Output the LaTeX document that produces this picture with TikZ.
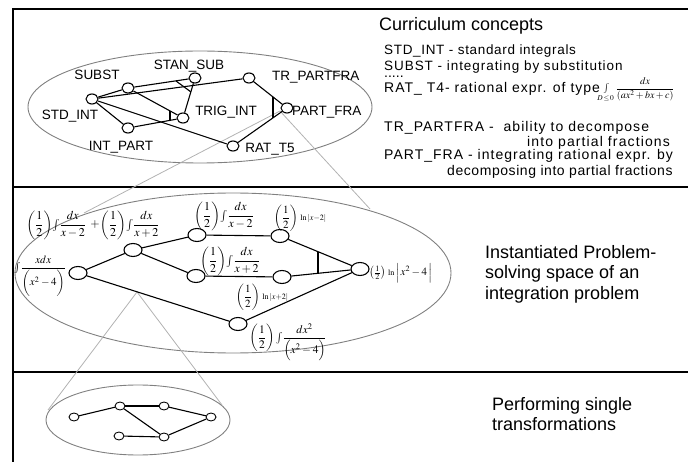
\documentclass[tikz,border=0pt]{standalone}
\usepackage{amsmath}
\usepackage{mathptmx}
\usepackage{fontspec}
\setmainfont{Liberation Serif}
\setsansfont{Liberation Sans}
\usetikzlibrary{shapes.geometric}

\begin{document}
\begin{tikzpicture}
[x=1pt,y=-1pt,
 gnode/.style={ellipse,draw,fill=white,line width=1.1pt,inner sep=0pt,minimum width=12pt,minimum height=10pt},
 pnode/.style={gnode,minimum width=18pt,minimum height=13pt},
 snode/.style={gnode,minimum width=10pt,minimum height=8pt,line width=0.9pt},
 lbl/.style={font=\sffamily\fontsize{13.5}{15}\selectfont,inner sep=0pt},
 txt/.style={font=\sffamily\fontsize{14}{16}\selectfont\addfontfeature{LetterSpace=#1},inner sep=0pt,anchor=base west},
 txt/.default=0,
 bigtxt/.style={font=\sffamily\fontsize{18}{20.5}\selectfont,inner sep=0pt,anchor=west,align=left},
 fml/.style={font=\fontsize{12}{14}\selectfont,inner sep=0pt},
 link/.style={line width=1.1pt},
 zone/.style={draw=black!50,line width=0.9pt},
 cone/.style={draw=black!30,line width=0.8pt}]
\useasboundingbox (0,0) rectangle (688,462);
\draw[line width=1.4pt] (688,9) -- (13,9) -- (13,462);
\draw[line width=1.8pt] (13,187) -- (688,187);
\draw[line width=1.8pt] (13,372) -- (688,372);
\draw[zone] (200,107) ellipse [x radius=172, y radius=56];
\draw[zone] (233,273) ellipse [x radius=218, y radius=80];
\draw[zone] (138,420) ellipse [x radius=92, y radius=35];
\coordinate (apexT) at (280,111);
\coordinate (tl) at (84,213);
\coordinate (tr) at (370,209);
\coordinate (apexM) at (137,292);
\coordinate (bl) at (48,410);
\coordinate (br) at (222,405);
\draw[cone] (tl) -- (apexT) -- (tr);
\draw[cone] (bl) -- (apexM) -- (br);
\node[lbl] (lsubst) at (97,75) {SUBST};
\node[lbl] (lstansub) at (189,66) {STAN\_SUB};
\node[lbl,anchor=west] (ltrpart) at (272,77) {TR\_PARTFRA};
\node[lbl,anchor=west] (lpartfra) at (292,112) {PART\_FRA};
\node[lbl] (lstdint) at (70,116) {STD\_INT};
\node[lbl] (ltrigint) at (226,112) {TRIG\_INT};
\node[lbl] (lintpart) at (121,147) {INT\_PART};
\node[lbl] (lratt) at (270,149) {RAT\_T5};
\node[gnode] (stdint) at (92,99) {};
\node[gnode] (subst) at (128,88) {};
\node[gnode] (stansub) at (195,78) {};
\node[gnode] (trpart) at (249,78) {};
\node[gnode] (partfra) at (287,108) {};
\node[gnode] (trigint) at (183,118) {};
\node[gnode] (intpart) at (128,128) {};
\node[gnode] (ratt) at (233,146) {};
\foreach \from/\to in {stdint/subst,subst/stansub,stdint/trpart,subst/trigint,stansub/trigint,stdint/intpart,intpart/trigint,stdint/ratt,trpart/partfra,partfra/ratt}
\draw[link] (\from) -- (\to);
\draw[link] (176,81) -- (191,92);
\draw[link] (170,111) -- (170,120);
\draw[link] (273,97) -- (273,118);
\node[txt,font=\sffamily\fontsize{18}{20}\selectfont] (title) at (379,31) {Curriculum concepts};
\node[txt=5,font=\sffamily\fontsize{13.5}{15}\selectfont\addfontfeature{LetterSpace=5}] (dstdint) at (384,55) {STD\_INT - standard integrals};
\node[txt=7,font=\sffamily\fontsize{13.5}{15}\selectfont\addfontfeature{LetterSpace=7}] (dsubst) at (384,70.5) {SUBST - integrating by substitution};
\node[txt] (ddots) at (384,78) {.....};
\node[txt=7] (dratt) at (384,93) {RAT\_ T4- rational expr. of type};
\node[fml,font=\fontsize{10}{12}\selectfont,anchor=west] (dratf) at (598,90) {$\int\limits_{D\,\le\, 0}\dfrac{dx}{(ax^2+bx+c)}$};
\node[txt=7.5] (dtrpart) at (384,132) {TR\_PARTFRA - \ ability to decompose};
\node[txt=8] (dtrpart2) at (527,147) {into partial fractions};
\node[txt=7.3] (dpartfra) at (384,160) {PART\_FRA - integrating rational expr. by};
\node[txt=4] (dpartfra2) at (447,176) {decomposing into partial fractions};
\node[pnode] (p1) at (78,273) {};
\node[pnode] (p2) at (133,250) {};
\node[pnode] (p3) at (197,235) {};
\node[pnode] (p4) at (280,236) {};
\node[pnode] (p5) at (196,276) {};
\node[pnode] (p6) at (282,277) {};
\node[pnode] (p7) at (360,269) {};
\node[pnode] (p8) at (238,324) {};
\foreach \from/\to in {p1/p2,p2/p3,p2/p5,p3/p4,p5/p6,p4/p7,p6/p7,p1/p8,p8/p7}
\draw[link] (\from) -- (\to);
\draw[link] (318,252) -- (318,273);
\node[fml] (lp12) at (93,225) {$\left(\dfrac{1}{2}\right)\!\int\!\dfrac{dx}{x-2}\;+\!\left(\dfrac{1}{2}\right)\!\int\!\dfrac{dx}{x+2}$};
\node[fml,font=\fontsize{11}{13}\selectfont] (lp1) at (40,276) {$\int\!\dfrac{xdx}{\biggl(x^{2}-4\biggr)}$};
\node[fml] (lp3) at (224,216) {$\left(\dfrac{1}{2}\right)\!\int\!\dfrac{dx}{x-2}$};
\node[fml,font=\fontsize{11}{13}\selectfont] (lp4) at (300,218) {$\left(\dfrac{1}{2}\right)\,{\scriptstyle\ln|x-2|}$};
\node[fml] (lp5) at (230,261) {$\left(\dfrac{1}{2}\right)\!\int\!\dfrac{dx}{x+2}$};
\node[fml,font=\fontsize{11}{13}\selectfont] (lp6) at (262,297) {$\left(\dfrac{1}{2}\right)\,{\scriptstyle\ln|x+2|}$};
\node[fml,font=\fontsize{11.5}{13}\selectfont] (lp8) at (288,342) {$\left(\dfrac{1}{2}\right)\int\!\dfrac{dx^{2}}{\Bigl(x^{2}-4\Bigr)}$};
\node[fml,font=\fontsize{11}{13}\selectfont,anchor=west] (lp7) at (369,273) {$\left(\tfrac{1}{2}\right)\,{\scriptstyle\ln}\,\Bigl|\,x^{2}-4\,\Bigr|$};
\node[bigtxt] (linst) at (485,274) {Instantiated Problem-\\solving space of an\\integration problem};
\node[snode] (s1) at (74,417) {};
\node[snode] (s2) at (120,406) {};
\node[snode] (s3) at (164,406) {};
\node[snode] (s4) at (211,417) {};
\node[snode] (s5) at (119,436) {};
\node[snode] (s6) at (164,437) {};
\foreach \from/\to in {s1/s2,s2/s3,s3/s4,s2/s6,s5/s6,s6/s4}
\draw[link] (\from) -- (\to);
\node[bigtxt] (lperf) at (492,414) {Performing single\\transformations};
\end{tikzpicture}
\end{document}
